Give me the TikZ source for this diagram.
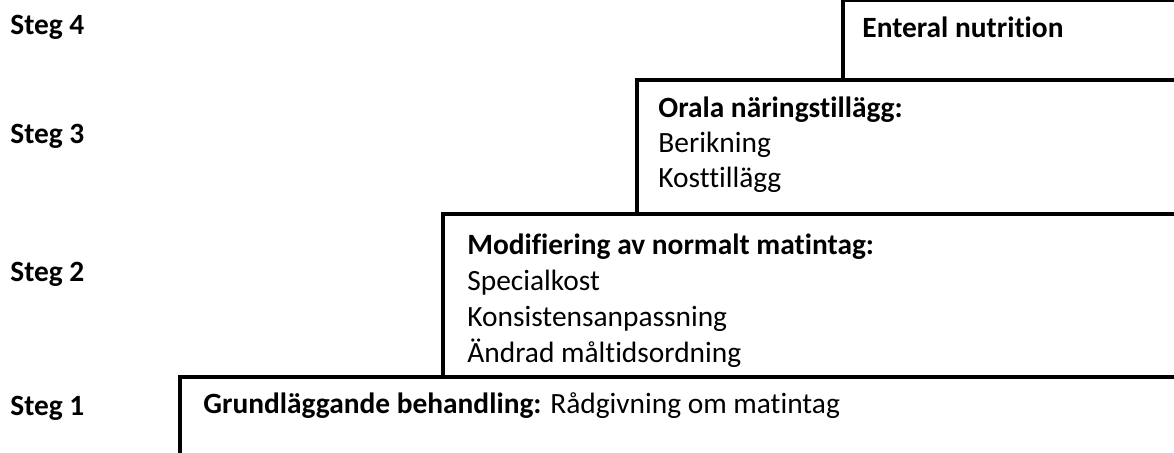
\documentclass[tikz,border=0pt]{standalone}
\usepackage{fontspec}
\setmainfont{Carlito}[Ligatures={NoCommon}]
\usepackage{tikz}
\usetikzlibrary{positioning}

\tikzset{
	steglabel/.style={anchor=base west,inner sep=0pt,font=\fontsize{14.7}{17}\selectfont\bfseries},
	boxtext/.style={anchor=base west,inner sep=0pt,font=\fontsize{14.7}{17}\selectfont},
	boxhead/.style={boxtext,font=\fontsize{14.7}{17}\selectfont\bfseries},
	stepbox/.style={fill=white,draw=black,line width=1.6pt}
}

\begin{document}
\begin{tikzpicture}[x=0.5pt,y=-0.5pt]
					\useasboundingbox (0,0) rectangle (1174,452);
					\clip (0,0) rectangle (1174,452);
					
					% trappan, uppifran och ner
					\draw[stepbox] (843,0) rectangle (1200,500);
					\draw[stepbox] (637,80) rectangle (1200,500);
					\draw[stepbox] (443,214) rectangle (1200,500);
					\draw[stepbox] (180,377) rectangle (1200,500);
					
					\node (s4) at (10,34) [steglabel] {Steg 4};
					\node (s3) at (10,143) [steglabel] {Steg 3};
					\node (s2) at (10,281) [steglabel] {Steg 2};
					\node (s1) at (10,415) [steglabel] {Steg 1};
					
					\node (enteral) at (862,37) [boxhead] {Enteral nutrition};
					
					\node (orala) at (658,117) [boxhead] {Orala näringstillägg:};
					\node (berik) at (658,152) [boxtext] {Berikning};
					\node (kost) at (658,187) [boxtext] {Kosttillägg};
					
					\node (modif) at (467,254) [boxhead] {Modifiering av normalt matintag:};
					\node (special) at (467,290) [boxtext] {Specialkost};
					\node (konsist) at (467,326) [boxtext] {Konsistensanpassning};
					\node (andrad) at (467,362) [boxtext] {Ändrad måltidsordning};
					
					\node (grund) at (203,413) [boxtext] {\textbf{Grundläggande behandling:} Rådgivning om matintag};
				\end{tikzpicture}
\end{document}
